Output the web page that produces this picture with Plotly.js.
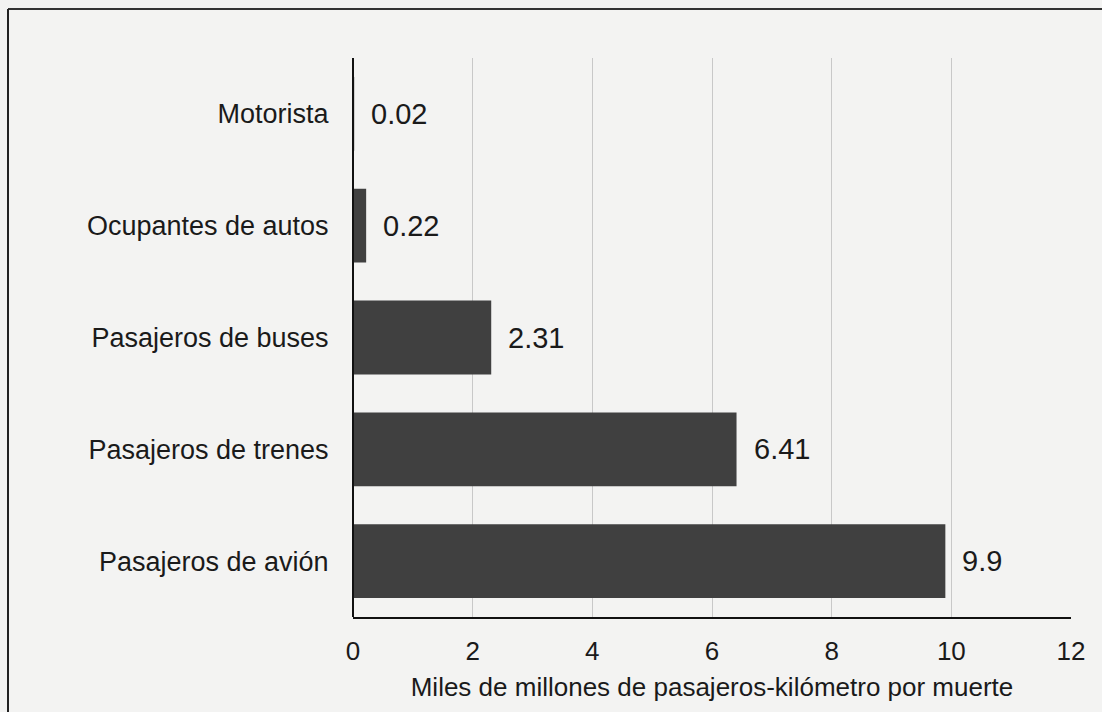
<!DOCTYPE html>
<html>
<head>
<meta charset="utf-8">
<script src="https://cdn.plot.ly/plotly-3.0.1.min.js"></script>
<style>html,body{margin:0;padding:0;background:#f3f3f2;}#chart{width:1102px;height:712px;}</style>
</head>
<body>
<div id="chart"></div>
<script>
const categories = ["Pasajeros de avión", "Pasajeros de trenes", "Pasajeros de buses", "Ocupantes de autos", "Motorista"];
const values = [9.9, 6.41, 2.31, 0.22, 0.02];
const valueLabels = ["9.9", "6.41", "2.31", "0.22", "0.02"];
const xTicks = [0, 2, 4, 6, 8, 10, 12];
const xTitle = "Miles de millones de pasajeros-kilómetro por muerte";

const W = 1102, H = 712;
const margin = {l: 353, r: 31, t: 58, b: 95};
const pw = W - margin.l - margin.r, ph = H - margin.t - margin.b;
const px = (x) => (x - margin.l) / pw;
const py = (y) => 1 - (y - margin.t) / ph;

const font = "Liberation Sans, Arial, sans-serif";

const trace = {
  type: "bar",
  orientation: "h",
  y: categories,
  x: values,
  marker: {color: "#404040", line: {width: 0}},
  hoverinfo: "none"
};

const annotations = values.map((v, i) => ({
  x: v, y: categories[i], xref: "x", yref: "y",
  text: valueLabels[i], showarrow: false,
  xanchor: "left", xshift: 15,
  font: {family: font, size: 29, color: "#1a1a1a"}
}));

const layout = {
  width: W, height: H,
  margin: margin,
  paper_bgcolor: "#f3f3f2",
  plot_bgcolor: "rgba(0,0,0,0)",
  bargap: 0.34,
  showlegend: false,
  xaxis: {
    range: [0, 12],
    tickvals: xTicks,
    ticktext: xTicks.map(String),
    showgrid: true, gridcolor: "#c8c8c8", gridwidth: 1,
    zeroline: false,
    showline: true, linecolor: "#111", linewidth: 2,
    ticks: "outside", ticklen: 10, tickcolor: "rgba(0,0,0,0)",
    tickfont: {family: font, size: 26, color: "#1a1a1a"},
    title: {text: xTitle, font: {family: font, size: 26, color: "#1a1a1a"}, standoff: 13},
    fixedrange: true
  },
  yaxis: {
    showgrid: false, zeroline: false,
    showline: false,
    ticks: "outside", ticklen: 18, tickcolor: "rgba(0,0,0,0)",
    tickfont: {family: font, size: 27, color: "#1a1a1a"},
    fixedrange: true
  },
  shapes: [
    {type: "line", xref: "paper", yref: "paper", x0: px(353), x1: px(353), y0: py(58), y1: py(617), line: {color: "#111", width: 2}},
    {type: "line", xref: "paper", yref: "paper", x0: px(8), x1: px(1102), y0: py(9), y1: py(9), line: {color: "#333", width: 2}},
    {type: "line", xref: "paper", yref: "paper", x0: px(8), x1: px(8), y0: py(9), y1: py(712), line: {color: "#222", width: 2}}
  ],
  annotations: annotations
};

Plotly.newPlot("chart", [trace], layout, {displayModeBar: false, staticPlot: true});
</script>
</body>
</html>
